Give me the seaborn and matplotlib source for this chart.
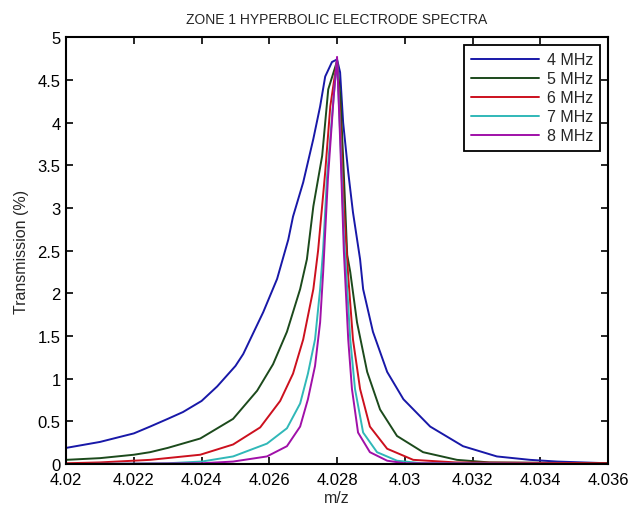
import numpy as np
import pandas as pd
import seaborn as sns
import matplotlib.pyplot as plt
from matplotlib.ticker import MultipleLocator, FormatStrFormatter

# Values (m/z, transmission %)
mz_4mhz = [4.020, 4.021, 4.022, 4.02248, 4.023, 4.02345, 4.024, 4.02446, 4.025, 4.02523,
           4.02582, 4.02623, 4.02656, 4.0267, 4.027, 4.0273, 4.0275, 4.02765, 4.02785, 4.0280,
           4.02809, 4.02818, 4.02833, 4.02847, 4.02868, 4.02877, 4.02906, 4.02948, 4.02996,
           4.03075, 4.03172, 4.03272, 4.0337, 4.0345, 4.0360]
tr_4mhz = [0.19, 0.26, 0.36, 0.44, 0.53, 0.61, 0.74, 0.91, 1.15, 1.29,
           1.78, 2.17, 2.63, 2.90, 3.30, 3.81, 4.19, 4.54, 4.71, 4.74,
           4.59, 4.00, 3.42, 2.95, 2.40, 2.05, 1.55, 1.08, 0.76,
           0.44, 0.21, 0.09, 0.05, 0.03, 0.01]

mz_5mhz = [4.020, 4.021, 4.022, 4.02248, 4.023, 4.02396, 4.02493, 4.02564, 4.02611, 4.02652,
           4.02691, 4.02711, 4.0273, 4.02756, 4.02774, 4.0280, 4.0281, 4.0282, 4.0283, 4.02839,
           4.02859, 4.02889, 4.02927, 4.02977, 4.03054, 4.03154, 4.0325, 4.0360]
tr_5mhz = [0.05, 0.07, 0.11, 0.14, 0.19, 0.30, 0.53, 0.86, 1.17, 1.55,
           2.05, 2.40, 3.02, 3.61, 4.39, 4.72, 4.30, 3.40, 2.45, 2.25,
           1.66, 1.08, 0.64, 0.33, 0.14, 0.05, 0.02, 0.01]

mz_6mhz = [4.020, 4.021, 4.02248, 4.02396, 4.02493, 4.02573, 4.02632, 4.0267, 4.0270, 4.0273,
           4.02744, 4.02765, 4.0278, 4.0280, 4.0281, 4.0282, 4.02833, 4.02847, 4.02868, 4.02897,
           4.02948, 4.03025, 4.0315, 4.0360]
tr_6mhz = [0.01, 0.02, 0.05, 0.11, 0.23, 0.43, 0.74, 1.06, 1.46, 2.05,
           2.50, 3.42, 4.19, 4.73, 4.00, 3.00, 2.20, 1.46, 0.88, 0.44,
           0.18, 0.05, 0.02, 0.01]

mz_7mhz = [4.020, 4.023, 4.024, 4.02493, 4.02593, 4.02652, 4.02691, 4.02714, 4.02735, 4.0275,
           4.02759, 4.0277, 4.0279, 4.0280, 4.0281, 4.0282, 4.02839, 4.02853, 4.02877, 4.02918,
           4.02977, 4.0305, 4.0360]
tr_7mhz = [0.00, 0.01, 0.03, 0.09, 0.24, 0.42, 0.71, 1.06, 1.46, 2.05,
           2.52, 3.34, 4.30, 4.74, 3.80, 2.70, 1.46, 0.88, 0.37, 0.14,
           0.04, 0.01, 0.00]

mz_8mhz = [4.020, 4.024, 4.02493, 4.02593, 4.02652, 4.02691, 4.02714, 4.02735, 4.0275, 4.02759,
           4.02773, 4.0279, 4.0280, 4.0281, 4.0282, 4.02833, 4.02844, 4.02862, 4.02897, 4.02948,
           4.0300, 4.0360]
tr_8mhz = [0.00, 0.01, 0.03, 0.09, 0.21, 0.44, 0.76, 1.15, 1.66, 2.25,
           3.34, 4.30, 4.77, 3.70, 2.50, 1.46, 0.88, 0.37, 0.14, 0.04,
           0.01, 0.00]

labels = ['4 MHz', '5 MHz', '6 MHz', '7 MHz', '8 MHz']
colors = ['#1818a8', '#1c4a1c', '#cc101e', '#30b8b8', '#a010a8']

series = [(mz_4mhz, tr_4mhz), (mz_5mhz, tr_5mhz), (mz_6mhz, tr_6mhz),
          (mz_7mhz, tr_7mhz), (mz_8mhz, tr_8mhz)]

# Build a long dataframe for seaborn
frames = []
for label, (mz, tr) in zip(labels, series):
    frames.append(pd.DataFrame({'m/z': mz, 'Transmission (%)': tr, 'freq': label}))
df = pd.concat(frames, ignore_index=True)

sns.set_style('ticks')
plt.rcParams['font.family'] = ['Liberation Sans', 'DejaVu Sans']
plt.rcParams['xtick.direction'] = 'in'
plt.rcParams['ytick.direction'] = 'in'

fig = plt.figure(figsize=(6.3, 5.1), dpi=100)
ax = fig.add_axes([0.105, 0.088, 0.86, 0.837])

sns.lineplot(data=df, x='m/z', y='Transmission (%)', hue='freq',
             palette=dict(zip(labels, colors)), linewidth=1.4, ax=ax, sort=False)

ax.set_xlim(4.02, 4.036)
ax.set_ylim(0, 5)
ax.xaxis.set_major_locator(MultipleLocator(0.002))
ax.xaxis.set_major_formatter(FormatStrFormatter('%g'))
ax.yaxis.set_major_locator(MultipleLocator(0.5))
ax.yaxis.set_major_formatter(FormatStrFormatter('%g'))
ax.tick_params(axis='both', which='both', top=True, right=True, length=5,
               width=1.2, labelsize=12, color='black', labelcolor='black')
ax.tick_params(axis='x', pad=6)
ax.tick_params(axis='y', pad=4)
for spine in ax.spines.values():
    spine.set_visible(True)
    spine.set_linewidth(1.5)
    spine.set_color('black')

ax.set_xlabel('m/z', fontsize=11.5, labelpad=2)
ax.set_ylabel('Transmission (%)', fontsize=11.5, labelpad=6)
ax.set_title('ZONE 1 HYPERBOLIC ELECTRODE SPECTRA', fontsize=10, pad=10)

leg = ax.legend(loc='upper right', fontsize=11.5, handlelength=4.2, frameon=True,
                fancybox=False, edgecolor='black', borderaxespad=0.5,
                labelspacing=0.25, borderpad=0.45, handletextpad=0.5)
leg.get_frame().set_linewidth(1.3)
leg.get_frame().set_alpha(1)

plt.savefig('out.png', dpi=100)
